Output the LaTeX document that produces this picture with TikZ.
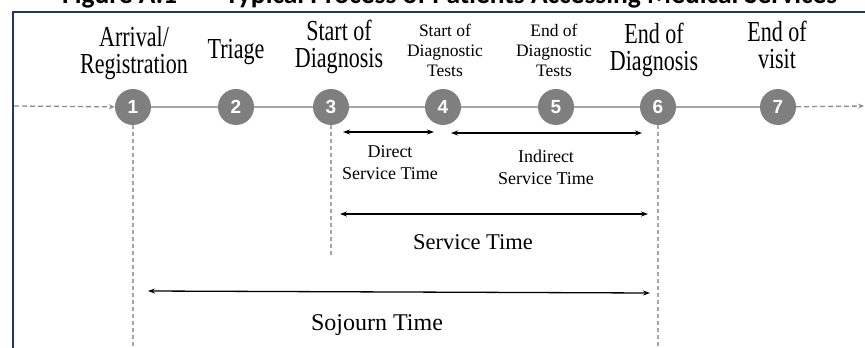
\documentclass[tikz,border=0pt]{standalone}
\usepackage{fontspec}
\setmainfont{Liberation Serif}
\newfontfamily\condserif[FakeStretch=0.76]{Liberation Serif}
\newfontfamily\numfont{Liberation Sans}
\newfontfamily\titlefont{Carlito}
\usetikzlibrary{arrows.meta}
\definecolor{framecol}{HTML}{203864}
\definecolor{circcol}{HTML}{7F7F7F}
\definecolor{linecol}{HTML}{A6A6A6}
\definecolor{dashcol}{HTML}{8C8C8C}
\begin{document}
\begin{tikzpicture}[x=1pt,y=-1pt,
  stepcirc/.style={circle,fill=circcol,minimum size=36pt,inner sep=0pt,text=white,
    font=\numfont\bfseries\fontsize{19}{19}\selectfont},
  toplabel/.style={align=center,inner sep=0pt,font=\condserif\fontsize{29}{26.5}\selectfont},
  smalllabel/.style={align=center,inner sep=0pt,font=\fontsize{17.5}{20}\selectfont},
  midlabel/.style={align=center,inner sep=0pt,font=\fontsize{18}{22}\selectfont},
  biglabel/.style={align=center,inner sep=0pt,font=\fontsize{22.5}{24}\selectfont},
  titlestyle/.style={anchor=base west,inner sep=0pt,font=\titlefont\bfseries\fontsize{27.5}{28}\selectfont},
  hline/.style={draw=linecol,line width=1.5pt},
  dasharrow/.style={draw=dashcol,line width=1.3pt,dash pattern=on 5pt off 3pt,
    -{Stealth[length=6pt,width=5pt]}},
  vdash/.style={draw=linecol,line width=1.3pt,dash pattern=on 4pt off 3pt},
  dimarrow/.style={draw=black,line width=1.3pt,{Stealth[length=7pt,width=5pt]}-{Stealth[length=7pt,width=5pt]}}
]
\useasboundingbox (0,0) rectangle (865,348);
\clip (0,0) rectangle (865,348);
\fill[white] (0,0) rectangle (865,348);
% title (cut at top)
\node[titlestyle] (title1) at (62,4) {Figure A.1};
\node[titlestyle] (title2) at (225,4) {Typical Process of Patients Accessing Medical Services};
% frame
\coordinate (fbl) at (12.5,349);
\coordinate (ftl) at (12.5,11.5);
\coordinate (ftr) at (866,11.5);
\draw[framecol,line width=2pt] (fbl) -- (ftl) -- (ftr);
% step circles
\node[stepcirc] (n1) at (133,107) {1};
\node[stepcirc] (n2) at (236,107) {2};
\node[stepcirc] (n3) at (331,107) {3};
\node[stepcirc] (n4) at (443,107) {4};
\node[stepcirc] (n5) at (556,107) {5};
\node[stepcirc] (n6) at (658,107) {6};
\node[stepcirc] (n7) at (778,107) {7};
\draw[hline] (n1) -- (n2);
\draw[hline] (n2) -- (n3);
\draw[hline] (n3) -- (n4);
\draw[hline] (n4) -- (n5);
\draw[hline] (n5) -- (n6);
\draw[hline] (n6) -- (n7);
% incoming / outgoing
\coordinate (inL) at (14,106);
\coordinate (outR) at (864,106);
\draw[dasharrow] (inL) -- (n1);
\draw[dasharrow] (n7) -- (outR);
% vertical dashed lines
\coordinate (v1) at (133,349);
\coordinate (v3) at (331,255);
\coordinate (v6) at (658,349);
\draw[vdash] (n1) -- (v1);
\draw[vdash] (n3) -- (v3);
\draw[vdash] (n6) -- (v6);
% top labels
\node[toplabel] (l1) at (134,53) {Arrival/\\Registration};
\node[toplabel] (l2) at (236,52.5) {Triage};
\node[toplabel] (l3) at (339,47) {Start of\\Diagnosis};
\node[smalllabel] (l4) at (445,50) {Start of\\Diagnostic\\Tests};
\node[smalllabel] (l5) at (554,50) {End of\\Diagnostic\\Tests};
\node[toplabel] (l6) at (654,50) {End of\\Diagnosis};
\node[toplabel] (l7) at (777,45) {End of\\visit};
% dimension arrows
\coordinate (da1) at (343,132);
\coordinate (da2) at (434,132);
\coordinate (ia1) at (451,133);
\coordinate (ia2) at (642,133);
\coordinate (sa1) at (340,214);
\coordinate (sa2) at (648,214);
\coordinate (so1) at (148,291);
\coordinate (so2) at (650,293);
\draw[dimarrow] (da1) -- (da2);
\draw[dimarrow] (ia1) -- (ia2);
\draw[dimarrow] (sa1) -- (sa2);
\draw[dimarrow] (so1) -- (so2);
\node[midlabel] (dl) at (390,163) {Direct\\Service Time};
\node[midlabel] (il) at (546,167) {Indirect\\Service Time};
\node[biglabel] (sl) at (473,242) {Service Time};
\node[biglabel,font=\fontsize{24}{26}\selectfont] (jl) at (377,325) {Sojourn Time};
\end{tikzpicture}
\end{document}
